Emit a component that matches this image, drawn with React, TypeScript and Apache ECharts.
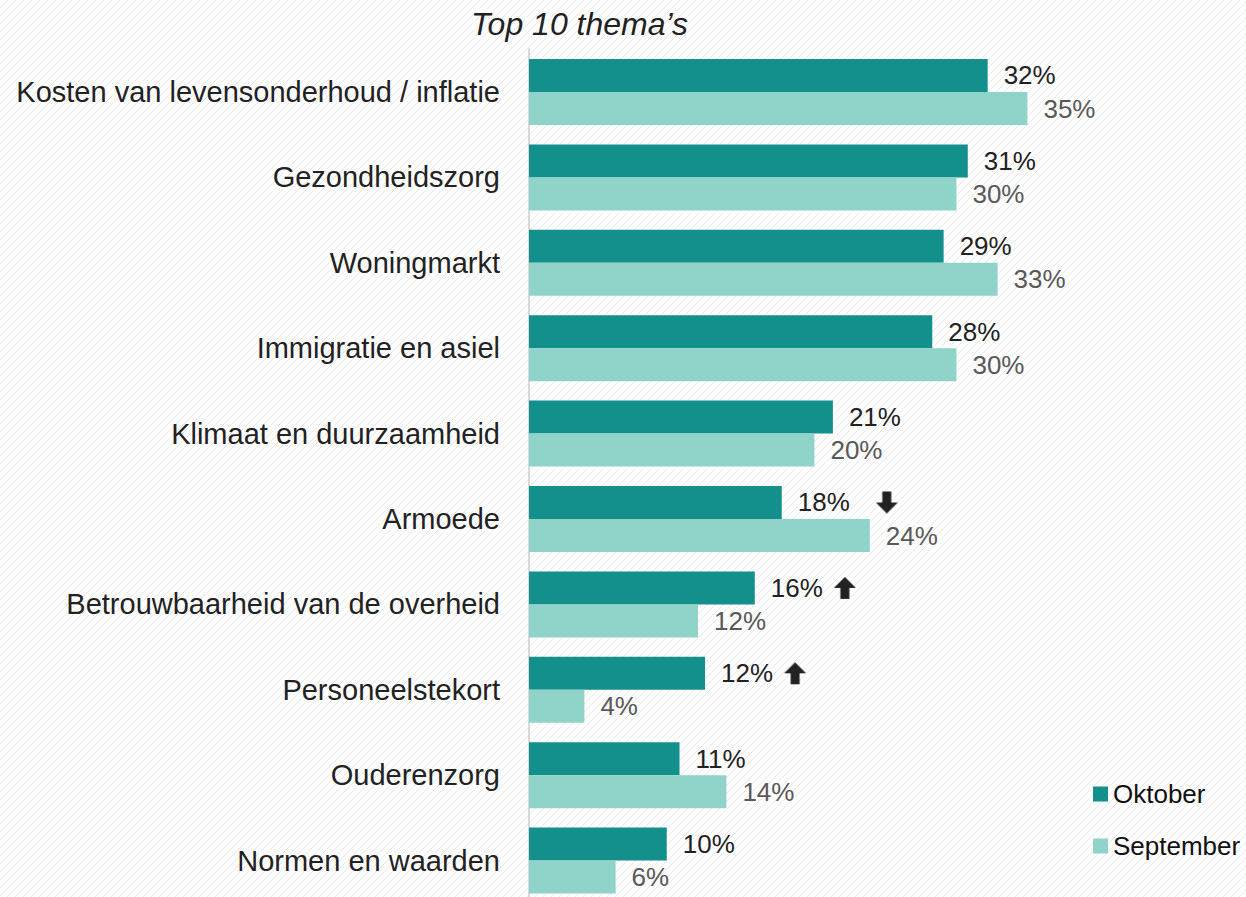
import React, { useEffect, useRef } from "react";
import * as echarts from "echarts";

const categories = [
  "Kosten van levensonderhoud / inflatie",
  "Gezondheidszorg",
  "Woningmarkt",
  "Immigratie en asiel",
  "Klimaat en duurzaamheid",
  "Armoede",
  "Betrouwbaarheid van de overheid",
  "Personeelstekort",
  "Ouderenzorg",
  "Normen en waarden",
];
// Estimated unrounded values; labels show rounded percentages
const oktober = [32.3, 30.9, 29.2, 28.4, 21.4, 17.8, 15.9, 12.4, 10.6, 9.7];
const september = [35.1, 30.1, 33.0, 30.1, 20.1, 24.0, 11.9, 3.9, 13.9, 6.1];
const trend = ["", "", "", "", "", "down", "up", "up", "", ""];

function makeHatch(): HTMLCanvasElement {
  const c = document.createElement("canvas");
  c.width = 8;
  c.height = 8;
  const ctx = c.getContext("2d")!;
  ctx.fillStyle = "#ffffff";
  ctx.fillRect(0, 0, 8, 8);
  ctx.strokeStyle = "#e8e8e8";
  ctx.lineWidth = 1;
  ctx.beginPath();
  ctx.moveTo(0, 8);
  ctx.lineTo(8, 0);
  ctx.moveTo(-4, 4);
  ctx.lineTo(4, -4);
  ctx.moveTo(4, 12);
  ctx.lineTo(12, 4);
  ctx.stroke();
  return c;
}

function makeArrow(dir: "up" | "down"): HTMLCanvasElement {
  const c = document.createElement("canvas");
  c.width = 22;
  c.height = 22;
  const ctx = c.getContext("2d")!;
  ctx.fillStyle = "#222222";
  ctx.beginPath();
  if (dir === "up") {
    ctx.moveTo(0, 11);
    ctx.lineTo(11, 0);
    ctx.lineTo(22, 11);
    ctx.closePath();
    ctx.fill();
    ctx.fillRect(6.5, 10, 9, 12);
  } else {
    ctx.moveTo(0, 11);
    ctx.lineTo(11, 22);
    ctx.lineTo(22, 11);
    ctx.closePath();
    ctx.fill();
    ctx.fillRect(6.5, 0, 9, 12);
  }
  return c;
}

export default function App() {
  const ref = useRef<HTMLDivElement>(null);
  useEffect(() => {
    if (!ref.current) return;
    const chart = echarts.init(ref.current, undefined, { renderer: "svg" });
    const font = "'Liberation Sans', Arial, sans-serif";
    const xMax = 50;
    const pxPer = 14.2;
    chart.setOption({
      animation: false,
      backgroundColor: { image: makeHatch(), repeat: "repeat" } as any,
      textStyle: { fontFamily: font },
      title: {
        text: "Top 10 thema\u2019s",
        left: 466,
        top: 3,
        textStyle: {
          fontFamily: font,
          fontStyle: "italic",
          fontWeight: "normal",
          fontSize: 32,
          color: "#222222",
        },
      },
      legend: {
        orient: "vertical",
        left: 1088,
        top: 776,
        itemWidth: 15,
        itemHeight: 15,
        itemGap: 26,
        icon: "rect",
        textStyle: { fontFamily: font, fontSize: 26, lineHeight: 26, color: "#111111", padding: [0, 0, 0, 0] },
        data: ["Oktober", "September"],
      },
      grid: { left: 529, top: 49.3, width: xMax * pxPer, height: 854, containLabel: false },
      xAxis: {
        type: "value",
        min: 0,
        max: xMax,
        show: false,
        splitLine: { show: false },
      },
      yAxis: {
        type: "category",
        data: categories,
        inverse: true,
        axisTick: { show: false },
        axisLine: { show: true, lineStyle: { color: "#d9d9d9", width: 2 } },
        axisLabel: { fontFamily: font, fontSize: 29, color: "#222222", margin: 29 },
      },
      series: [
        {
          name: "Oktober",
          type: "bar",
          data: oktober,
          barGap: "0%",
          barCategoryGap: "22.7%",
          itemStyle: { color: "#138f8c" },
          label: {
            show: true,
            position: "right",
            distance: 16,
            fontFamily: font,
            fontSize: 26,
            color: "#222222",
            formatter: (p: any) => {
              const v = Math.round(p.value);
              const t = trend[p.dataIndex];
              if (t === "down") return `${v}%{gapL|}{down|}`;
              if (t === "up") return `${v}%{gapS|}{up|}`;
              return `${v}%`;
            },
            rich: {
              gapL: { width: 26, height: 22 },
              gapS: { width: 11, height: 22 },
              up: { width: 22, height: 22, backgroundColor: { image: makeArrow("up") } },
              down: { width: 22, height: 22, backgroundColor: { image: makeArrow("down") } },
            },
          },
        },
        {
          name: "September",
          type: "bar",
          data: september,
          barGap: "0%",
          barCategoryGap: "22.7%",
          itemStyle: { color: "#8fd3c9" },
          label: {
            show: true,
            position: "right",
            distance: 16,
            fontFamily: font,
            fontSize: 26,
            color: "#595959",
            formatter: (p: any) => `${Math.round(p.value)}%`,
          },
        },
      ],
    });
    return () => chart.dispose();
  }, []);
  return (
    <div
      style={{
        position: "absolute",
        left: 0,
        top: 0,
        width: 1246,
        height: 897,
        overflow: "hidden",
      }}
    >
      <div ref={ref} style={{ width: 1246, height: 912 }} />
    </div>
  );
}
